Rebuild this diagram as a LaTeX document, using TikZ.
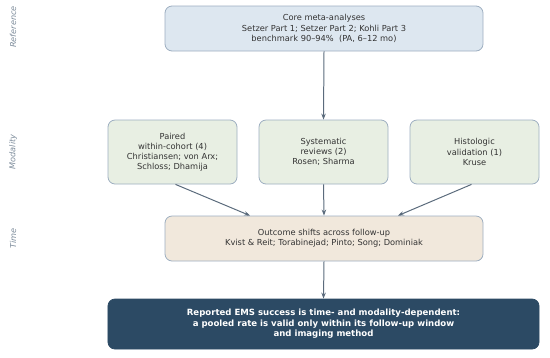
\documentclass[tikz,border=0pt]{standalone}
\usepackage{fontspec}
\setmainfont{DejaVu Sans}
\usetikzlibrary{arrows.meta}

\definecolor{refFill}{HTML}{DDE7F0}
\definecolor{modFill}{HTML}{E8EFE3}
\definecolor{timeFill}{HTML}{F1E8DC}
\definecolor{conclFill}{HTML}{2C4A64}
\definecolor{boxLine}{HTML}{9DAEC0}
\definecolor{arrowCol}{HTML}{5B6B7C}
\definecolor{tierCol}{HTML}{7D8C9B}

\tikzset{
  box/.style={draw=boxLine, line width=0.8pt, rounded corners=7bp, align=center,
    inner sep=2pt, font=\fontsize{8.3}{10.2}\selectfont, text=black!80},
  flow/.style={-{Stealth[length=6pt,width=4.5pt]}, draw=arrowCol, line width=1pt},
  tier/.style={rotate=90, text=tierCol, font=\fontsize{8.2}{9}\selectfont\itshape}
}

\begin{document}
\begin{tikzpicture}[x=1bp, y=-1bp]
    \useasboundingbox (0,0) rectangle (550,357);

    % Tier labels
    \node[tier] (lblref) at (13,27) {Reference};
    \node[tier] (lblmod) at (13,152) {Modality};
    \node[tier] (lbltime) at (13,238.5) {Time};

    % Reference tier
    \node[box, fill=refFill, minimum width=318bp, minimum height=45bp] (ref) at (324,28.5)
        {Core meta-analyses\\Setzer Part 1; Setzer Part 2; Kohli Part 3\\benchmark 90--94\%\ \ (PA, 6--12 mo)};

    % Modality tier
    \node[box, fill=modFill, minimum width=129bp, minimum height=64bp] (paired) at (172.5,152)
        {Paired\\within-cohort (4)\\Christiansen; von Arx;\\Schloss; Dhamija};
    \node[box, fill=modFill, minimum width=129bp, minimum height=64bp] (sysrev) at (323.5,152)
        {Systematic\\reviews (2)\\Rosen; Sharma};
    \node[box, fill=modFill, minimum width=129bp, minimum height=64bp] (histo) at (474.5,152)
        {Histologic\\validation (1)\\Kruse};

    % Time tier
    \node[box, fill=timeFill, minimum width=318bp, minimum height=45bp] (time) at (324,238.5)
        {Outcome shifts across follow-up\\Kvist \& Reit; Torabinejad; Pinto; Song; Dominiak};

    % Conclusion
    \node[box, draw=conclFill, fill=conclFill, text=white, minimum width=431bp, minimum height=50bp,
        font=\fontsize{8.6}{10.5}\selectfont\bfseries] (concl) at (323.5,324)
        {Reported EMS success is time- and modality-dependent:\\a pooled rate is valid only within its follow-up window\\and imaging method};

    % Connectors
    \draw[flow] (ref.south) -- (sysrev.north);
    \draw[flow] ([xshift=3bp]paired.south) -- ([xshift=-74bp]time.north);
    \draw[flow] (sysrev.south) -- (time.north);
    \draw[flow] ([xshift=-3bp]histo.south) -- ([xshift=74bp]time.north);
    \draw[flow] (time.south) -- (concl.north);
\end{tikzpicture}
\end{document}
